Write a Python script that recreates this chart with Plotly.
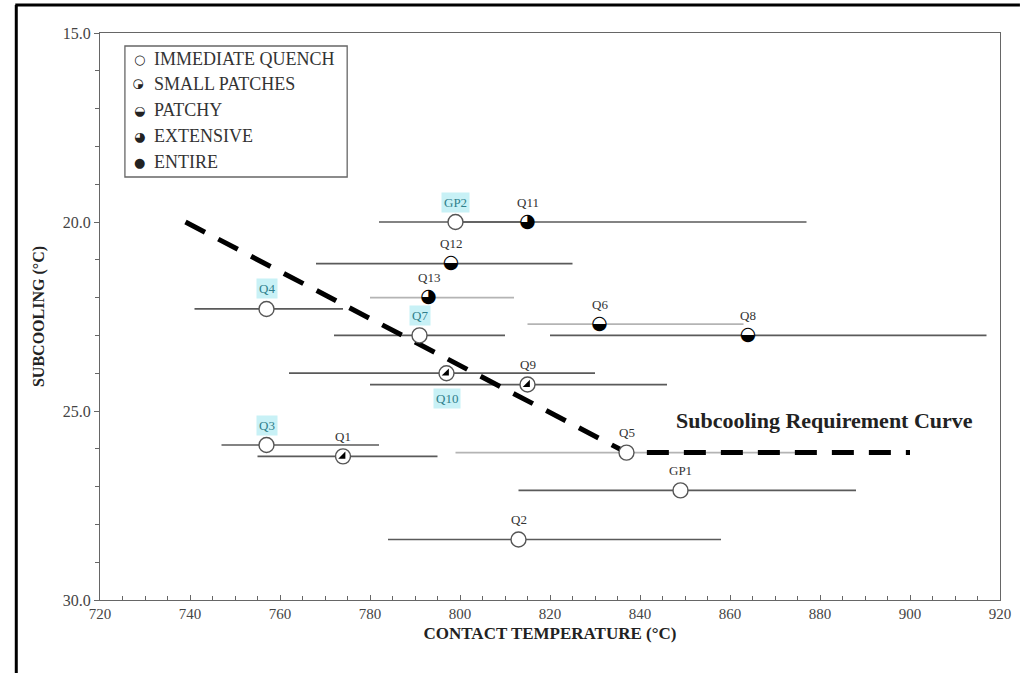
import plotly.graph_objects as go

# ---------------- data ----------------
names = ["GP2", "Q11", "Q12", "Q13", "Q4", "Q7", "Q6", "Q8", "Q9", "Q10",
         "Q3", "Q1", "Q5", "GP1", "Q2"]
contact_temp = [799, 815, 798, 793, 757, 791, 831, 864, 815, 797,
                757, 774, 837, 849, 813]
subcooling = [20.0, 20.0, 21.1, 22.0, 22.3, 23.0, 22.7, 23.0, 24.3, 24.0,
              25.9, 26.2, 26.1, 27.1, 28.4]
temp_low = [782, 800, 768, 780, 741, 772, 815, 820, 780, 762,
            747, 755, 799, 813, 784]
temp_high = [816, 877, 825, 812, 774, 810, 863, 917, 846, 830,
             782, 795, 875, 888, 858]
regime = ["IMMEDIATE QUENCH", "EXTENSIVE", "PATCHY", "EXTENSIVE",
          "IMMEDIATE QUENCH", "IMMEDIATE QUENCH", "PATCHY", "PATCHY",
          "SMALL PATCHES", "SMALL PATCHES", "IMMEDIATE QUENCH",
          "SMALL PATCHES", "IMMEDIATE QUENCH", "IMMEDIATE QUENCH",
          "IMMEDIATE QUENCH"]
faint_bars = ["Q13", "Q6", "Q5"]
highlighted = ["GP2", "Q4", "Q7", "Q3", "Q10"]
label_below = ["Q10"]

curve_temp = [739, 837, 900]
curve_subcool = [20.0, 26.1, 26.1]
curve_label = "Subcooling Requirement Curve"

legend_labels = ["IMMEDIATE QUENCH", "SMALL PATCHES", "PATCHY", "EXTENSIVE", "ENTIRE"]

x_ticks = [720, 740, 760, 780, 800, 820, 840, 860, 880, 900, 920]
y_ticks = [15.0, 20.0, 25.0, 30.0]

# ---------------- figure geometry ----------------
W, H = 1023, 673
ML, MR, MT, MB = 100, 20, 33, 73
PW, PH = W - ML - MR, H - MT - MB


def px_x(px):
    return (px - ML) / PW


def px_y(py):
    return (H - MB - py) / PH


SERIF = "Liberation Serif, Times New Roman, serif"
GLYPH = "DejaVu Sans"

fig = go.Figure()

# horizontal uncertainty bars
for faint in (False, True):
    idx = [i for i, n in enumerate(names) if (n in faint_bars) == faint]
    fig.add_trace(go.Scatter(
        x=[contact_temp[i] for i in idx],
        y=[subcooling[i] for i in idx],
        mode="markers",
        marker=dict(size=1, color="rgba(0,0,0,0)"),
        error_x=dict(
            type="data", symmetric=False,
            array=[temp_high[i] - contact_temp[i] for i in idx],
            arrayminus=[contact_temp[i] - temp_low[i] for i in idx],
            color="#b4b4b4" if faint else "#5a5a5a",
            thickness=1.7, width=0),
        showlegend=False, hoverinfo="skip"))

# subcooling requirement curve
fig.add_trace(go.Scatter(
    x=curve_temp, y=curve_subcool, mode="lines",
    line=dict(color="black", width=5, dash="22px,15px"),
    showlegend=False, hoverinfo="skip"))


def sel(cat):
    return [i for i, r in enumerate(regime) if r == cat]


# immediate quench: open white circles
iq = sel("IMMEDIATE QUENCH")
fig.add_trace(go.Scatter(
    x=[contact_temp[i] for i in iq], y=[subcooling[i] for i in iq],
    mode="markers",
    marker=dict(symbol="circle", size=15, color="white",
                line=dict(color="#555555", width=1.4)),
    showlegend=False))

# small patches: white circle with dark lower-right patch
sp = sel("SMALL PATCHES")
fig.add_trace(go.Scatter(
    x=[contact_temp[i] for i in sp], y=[subcooling[i] for i in sp],
    mode="markers",
    marker=dict(symbol="circle", size=15, color="white",
                line=dict(color="#555555", width=1.4)),
    showlegend=False))
fig.add_trace(go.Scatter(
    x=[contact_temp[i] for i in sp], y=[subcooling[i] for i in sp],
    mode="markers",
    marker=dict(symbol="triangle-se", size=8, color="black",
                line=dict(width=0)),
    showlegend=False))

# patchy / extensive: half-filled glyphs on a white base
for cat, glyph in (("PATCHY", "◒"), ("EXTENSIVE", "◕")):
    ids = sel(cat)
    fig.add_trace(go.Scatter(
        x=[contact_temp[i] for i in ids], y=[subcooling[i] for i in ids],
        mode="markers",
        marker=dict(symbol="circle", size=13, color="white", line=dict(width=0)),
        showlegend=False))
    fig.add_trace(go.Scatter(
        x=[contact_temp[i] for i in ids], y=[subcooling[i] for i in ids],
        mode="text", text=[glyph] * len(ids), textposition="middle center",
        textfont=dict(family=GLYPH, size=19, color="black"),
        showlegend=False))

# entire: solid black
en = sel("ENTIRE")
if en:
    fig.add_trace(go.Scatter(
        x=[contact_temp[i] for i in en], y=[subcooling[i] for i in en],
        mode="markers", marker=dict(symbol="circle", size=14, color="black"),
        showlegend=False))

# point labels
for n, xv, yv in zip(names, contact_temp, subcooling):
    hl = n in highlighted
    fig.add_annotation(
        x=xv, y=yv, text=n, showarrow=False,
        yshift=-25 if n in label_below else 20,
        font=dict(family=SERIF, size=13, color="#2f7f8c" if hl else "#333333"),
        bgcolor="#c8f1f6" if hl else "rgba(0,0,0,0)",
        borderpad=2)

# curve label
fig.add_annotation(
    x=881, y=25.26, text=f"<b>{curve_label}</b>", showarrow=False,
    font=dict(family=SERIF, size=22, color="#222222"))

# custom legend
legend_glyphs = ["○", "◔", "◒", "◕", "●"]
legend_rows = [59, 84, 110, 136, 162]
for lab, g, ry in zip(legend_labels, legend_glyphs, legend_rows):
    fig.add_annotation(
        xref="paper", yref="paper", x=px_x(140), y=px_y(ry),
        xanchor="center", yanchor="middle",
        text=g, showarrow=False, textangle=90 if g == "◔" else 0,
        font=dict(family=GLYPH, size=13, color="#222222"))
    fig.add_annotation(
        xref="paper", yref="paper", x=px_x(152), y=px_y(ry),
        xanchor="left", yanchor="middle", text=lab, showarrow=False,
        font=dict(family=SERIF, size=18, color="#333333"))
fig.add_shape(type="rect", xref="paper", yref="paper",
              x0=px_x(125), x1=px_x(348), y0=px_y(177), y1=px_y(46),
              line=dict(color="#666666", width=1.3), fillcolor="rgba(0,0,0,0)")

# outer black frame (top and left)
fig.add_shape(type="line", xref="paper", yref="paper",
              x0=px_x(15), x1=px_x(1023), y0=px_y(5), y1=px_y(5),
              line=dict(color="black", width=3))
fig.add_shape(type="line", xref="paper", yref="paper",
              x0=px_x(16), x1=px_x(16), y0=px_y(5), y1=px_y(673),
              line=dict(color="black", width=3))

fig.update_layout(
    width=W, height=H,
    margin=dict(l=ML, r=MR, t=MT, b=MB),
    paper_bgcolor="white", plot_bgcolor="white",
    showlegend=False,
    xaxis=dict(
        range=[720, 920], tickvals=x_ticks, ticktext=[str(v) for v in x_ticks],
        showgrid=False, zeroline=False,
        showline=True, linecolor="#666666", linewidth=1.3, mirror=True,
        ticks="inside", ticklen=5, tickcolor="#666666",
        minor=dict(dtick=5, ticks="inside", ticklen=4, tickcolor="#666666"),
        tickfont=dict(family=SERIF, size=15, color="#444444"),
        title=dict(text="<b>CONTACT TEMPERATURE (°C)</b>", standoff=5,
                   font=dict(family=SERIF, size=17, color="#222222"))),
    yaxis=dict(
        range=[30, 15], tickvals=y_ticks, ticktext=[f"{v:.1f}" for v in y_ticks],
        showgrid=False, zeroline=False,
        showline=True, linecolor="#666666", linewidth=1.3, mirror=True,
        ticks="outside", ticklen=5, tickcolor="#666666",
        minor=dict(dtick=1, ticks="outside", ticklen=4, tickcolor="#666666"),
        tickfont=dict(family=SERIF, size=16, color="#444444"),
        title=dict(text="<b>SUBCOOLING (°C)</b>", standoff=14,
                   font=dict(family=SERIF, size=16, color="#222222"))),
)

fig.write_html("out.html")
